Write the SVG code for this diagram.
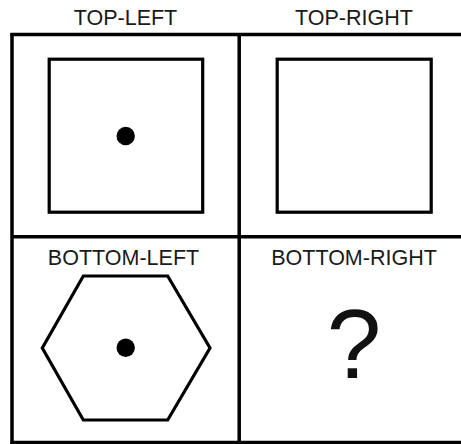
<svg xmlns="http://www.w3.org/2000/svg" width="461" height="444" viewBox="0 0 461 444">
<style>
.lbl{font-family:"Liberation Sans",Arial,sans-serif;font-size:21.5px;fill:#1a1a1a;text-anchor:middle}
.shape{fill:none;stroke:#000;stroke-width:3.2}
.grid{stroke:#000;stroke-width:3.5;fill:none}
</style>
<rect width="461" height="444" fill="#fff"/>
<g id="grid">
<line class="grid" x1="10.5" y1="34.5" x2="461" y2="34.5"/>
<line class="grid" x1="12" y1="33" x2="12" y2="444"/>
<line class="grid" x1="10.5" y1="442.5" x2="461" y2="442.5"/>
<line class="grid" x1="239.2" y1="33" x2="239.2" y2="444"/>
<line class="grid" x1="12" y1="236.7" x2="461" y2="236.7"/>
</g>
<g id="top-left">
<text class="lbl" x="125.5" y="25">TOP-LEFT</text>
<rect class="shape" x="49.2" y="59.2" width="153.5" height="153"/>
<circle cx="125.7" cy="136" r="9.2" fill="#000"/>
</g>
<g id="top-right">
<text class="lbl" x="354" y="25">TOP-RIGHT</text>
<rect class="shape" x="277.2" y="59.2" width="154" height="153"/>
</g>
<g id="bottom-left">
<text class="lbl" x="123.5" y="265">BOTTOM-LEFT</text>
<polygon class="shape" points="83.3,276 167.7,276 210,348 167.7,420 83.3,420 42.3,348"/>
<circle cx="125.7" cy="347.7" r="9.2" fill="#000"/>
</g>
<g id="bottom-right">
<text class="lbl" x="354" y="265">BOTTOM-RIGHT</text>
<text x="354" y="378" style="font-family:'Liberation Sans',Arial,sans-serif;font-size:98px;fill:#111;text-anchor:middle">?</text>
</g>
</svg>
